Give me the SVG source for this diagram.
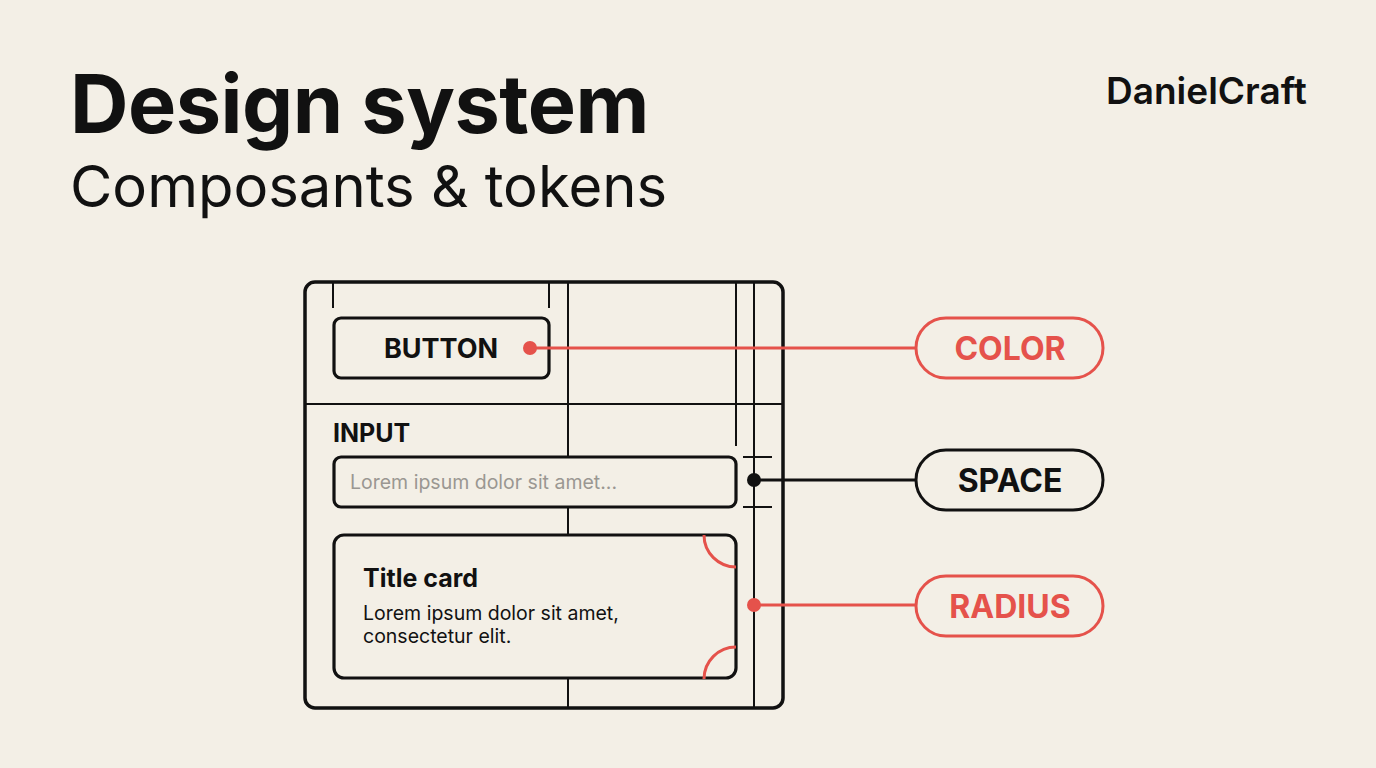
<svg xmlns="http://www.w3.org/2000/svg" width="1376" height="768" viewBox="0 0 1376 768">
<style>
.bg{fill:#F3EFE6}
.frame{fill:none;stroke:#111;stroke-width:3.5}
.box{fill:none;stroke:#111;stroke-width:3.2}
.grid{fill:none;stroke:#111;stroke-width:2}
.red{stroke:#E5524B;fill:none;stroke-width:3}
.blk{stroke:#111;fill:none;stroke-width:3}
.t{font-family:Inter,"Liberation Sans",sans-serif;fill:#111}
.pillR{fill:none;stroke:#E5524B;stroke-width:3}
.pillB{fill:none;stroke:#111;stroke-width:3}
.pt{font-family:Inter,"Liberation Sans",sans-serif;font-weight:700;font-size:32px;text-anchor:middle}
</style>
<rect class="bg" x="0" y="0" width="1376" height="768"/>
<g id="title">
<text class="t" x="70" y="133" font-size="81" font-weight="700" letter-spacing="-0.5">Design system</text>
<text class="t" x="70" y="207" font-size="58" font-weight="400">Composants &amp; tokens</text>
</g>
<g id="brand"><text class="t" x="1106" y="104" font-size="37" font-weight="600">DanielCraft</text></g>
<g id="frame">
<rect class="frame" x="305" y="282" width="478" height="426" rx="10"/>
<line class="grid" x1="333" y1="282" x2="333" y2="308"/>
<line class="grid" x1="549" y1="282" x2="549" y2="308"/>
<line class="grid" x1="568" y1="282" x2="568" y2="457"/>
<line class="grid" x1="568" y1="507" x2="568" y2="535"/>
<line class="grid" x1="568" y1="678" x2="568" y2="708"/>
<line class="grid" x1="736" y1="282" x2="736" y2="446"/>
<line class="grid" x1="754" y1="282" x2="754" y2="708"/>
<line class="grid" x1="305" y1="404" x2="783" y2="404"/>
<line class="grid" x1="743" y1="457" x2="772" y2="457"/>
<line class="grid" x1="743" y1="507" x2="772" y2="507"/>
</g>
<g id="button">
<rect class="box" x="334" y="318" width="215" height="60" rx="7"/>
<text class="t" x="441" y="358" font-size="27" font-weight="700" text-anchor="middle">BUTTON</text>
</g>
<g id="input">
<text class="t" x="333" y="442" font-size="25" font-weight="700">INPUT</text>
<rect class="box" x="334" y="457" width="402" height="50" rx="7"/>
<text x="350" y="489" font-family="Inter,'Liberation Sans',sans-serif" font-size="19.5" fill="#9A9792">Lorem ipsum dolor sit amet...</text>
</g>
<g id="card">
<rect class="box" x="334" y="535" width="402" height="143" rx="10"/>
<text class="t" x="363" y="587" font-size="25" font-weight="700">Title card</text>
<text class="t" x="363" y="620" font-size="19.5">Lorem ipsum dolor sit amet,</text>
<text class="t" x="363" y="643" font-size="19.5">consectetur elit.</text>
<path class="red" d="M704 535 A32 32 0 0 0 736 567"/>
<path class="red" d="M736 647 A32 32 0 0 0 704 679"/>
</g>
<g id="connectors">
<line class="red" x1="530" y1="348" x2="916" y2="348"/>
<circle cx="530" cy="348" r="7" fill="#E5524B"/>
<line class="blk" x1="754" y1="480" x2="916" y2="480"/>
<circle cx="754" cy="480" r="7" fill="#111"/>
<line class="red" x1="754" y1="605" x2="916" y2="605"/>
<circle cx="754" cy="605" r="7" fill="#E5524B"/>
</g>
<g id="color">
<rect class="pillR" x="916" y="318" width="187" height="60" rx="30"/>
<text class="pt" x="1010" y="360" fill="#E5524B">COLOR</text>
</g>
<g id="space">
<rect class="pillB" x="916" y="450" width="187" height="60" rx="30"/>
<text class="pt" x="1010" y="492" fill="#111">SPACE</text>
</g>
<g id="radius">
<rect class="pillR" x="916" y="576" width="187" height="60" rx="30"/>
<text class="pt" x="1010" y="618" fill="#E5524B">RADIUS</text>
</g>
</svg>
